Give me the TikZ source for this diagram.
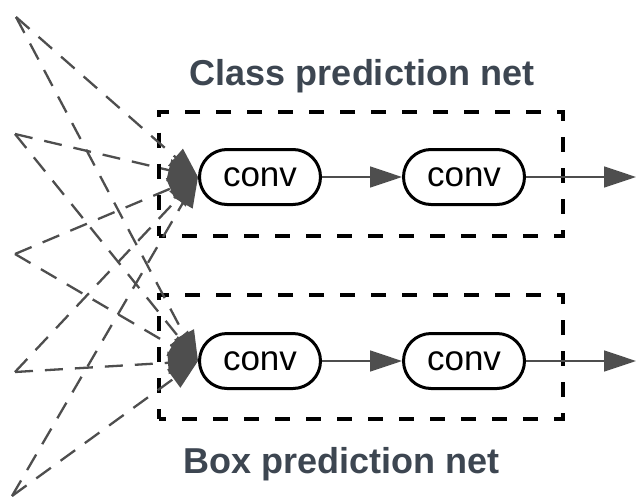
\documentclass[tikz,border=0pt]{standalone}
\usepackage{fontspec}
\setmainfont{Liberation Sans}
\usetikzlibrary{arrows.meta}
\definecolor{titlec}{RGB}{61,70,81}
\definecolor{linec}{RGB}{78,78,78}
\begin{document}
\begin{tikzpicture}[x=1pt,y=-1pt,
  convbox/.style={draw=black,line width=3pt,rounded corners=27.5pt,minimum width=121pt,minimum height=55pt,inner sep=0pt,font=\fontsize{35}{40}\selectfont,fill=white},
  netbox/.style={draw=black,line width=4pt,dash pattern=on 15pt off 16pt,dash phase=8pt,minimum width=404pt,minimum height=124pt,inner sep=0pt},
  nettitle/.style={font=\bfseries\fontsize{36}{42}\selectfont,text=titlec,anchor=base,inner sep=0pt},
  feed/.style={draw=linec,line width=2.3pt,dash pattern=on 18pt off 12pt,-{Triangle[length=30pt,width=22pt]}},
  flow/.style={draw=linec,line width=1.6pt,-{Triangle[length=32pt,width=21pt]}}
]
\useasboundingbox (0,0) rectangle (636,498);
\fill[white] (0,0) rectangle (636,498);

% dashed net boxes
\node[netbox] (classnet) at (361,173.5) {};
\node[netbox] (boxnet) at (361,357) {};

% titles
\node[nettitle] (classtitle) at (362,85) {Class prediction net};
\node[nettitle] (boxtitle) at (341.5,473) {Box prediction net};

% conv nodes
\node[convbox] (c1) at (260,177) {conv};
\node[convbox] (c2) at (464,177) {conv};
\node[convbox] (b1) at (260,361) {conv};
\node[convbox] (b2) at (464,361) {conv};

\coordinate (cout) at (636,177);
\coordinate (bout) at (636,361);

% sources (feature levels)
\coordinate (s1) at (16,17);
\coordinate (s2) at (15,134);
\coordinate (s3) at (15,254);
\coordinate (s4) at (15,372);
\coordinate (s5) at (12,496);

\foreach \s in {s1,s2,s3,s4,s5}{
  \draw[feed] (\s) -- (c1.west);
  \draw[feed] (\s) -- (b1.west);
}

\draw[flow] (c1) -- (c2);
\draw[flow] (c2) -- (cout);
\draw[flow] (b1) -- (b2);
\draw[flow] (b2) -- (bout);
\end{tikzpicture}
\end{document}
